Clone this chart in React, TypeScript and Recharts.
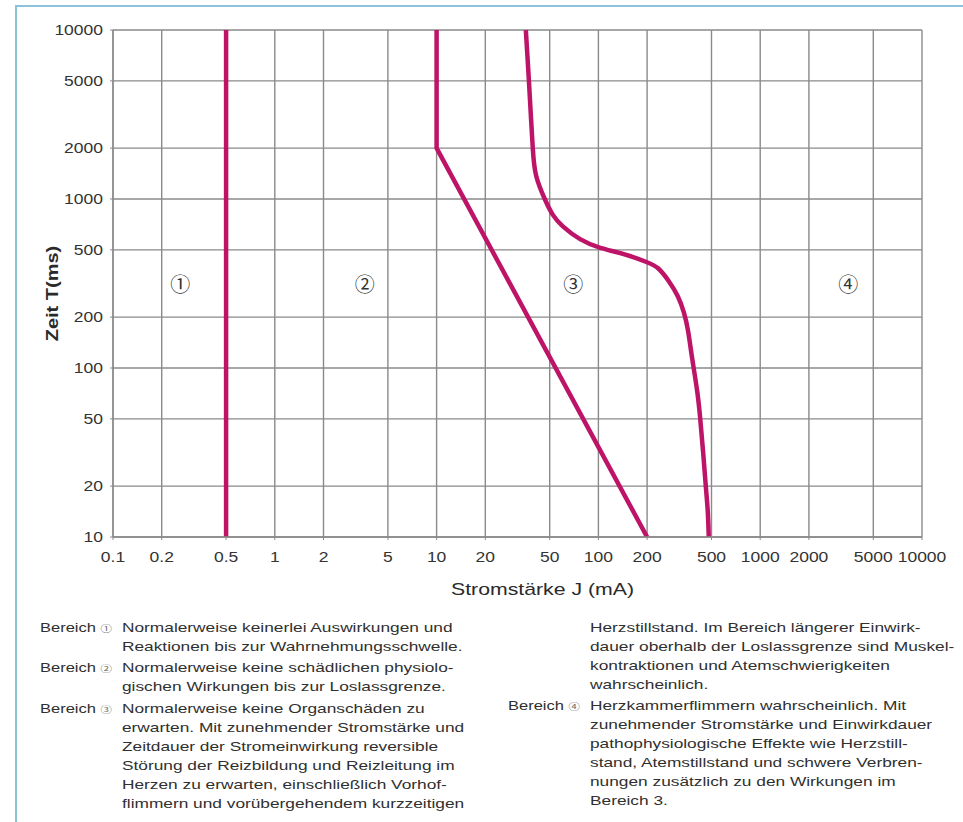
import React from "react";
import { LineChart, Line, XAxis, YAxis, CartesianGrid, ReferenceDot } from "recharts";

// axis ticks (log scales)
const currentTicks = [0.1, 0.2, 0.5, 1, 2, 5, 10, 20, 50, 100, 200, 500, 1000, 2000, 5000, 10000];
const timeTicks = [10, 20, 50, 100, 200, 500, 1000, 2000, 5000, 10000];

// threshold curves, current J (mA) vs time T (ms)
const curveACurrent = [0.5, 0.5];
const curveATime = [10, 10000];

const curveBCurrent = [10, 10, 200];
const curveBTime = [10000, 2000, 10];

const curveCCurrent = [
  35.6, 36.4, 37.2, 38.2, 39.3, 41.2, 46.6, 52.2, 60.3, 77.1, 102.9, 143.4, 198,
  234.6, 271.7, 310, 338, 358, 373, 388, 410, 426, 444, 461, 474, 481,
];
const curveCTime = [
  10000, 7080, 5000, 3185, 2000, 1377, 1000, 808, 689, 579, 514, 472, 424,
  388, 327.5, 265, 212, 166.6, 128, 100, 70.3, 50, 31.6, 20, 14.25, 10,
];

// region markers
const regionLabels = ["①", "②", "③", "④"];
const regionCurrent = [0.26, 3.6, 70, 3500];
const regionTime = [310, 310, 310, 310];

const toPoints = (xs: number[], ys: number[]) => xs.map((x, i) => ({ x, y: ys[i] }));

const curveA = toPoints(curveACurrent, curveATime);
const curveB = toPoints(curveBCurrent, curveBTime);
const curveC = toPoints(curveCCurrent, curveCTime);

const leftNotes = [
  {
    label: "①",
    lines: ["Normalerweise keinerlei Auswirkungen und", "Reaktionen bis zur Wahrnehmungsschwelle."],
  },
  {
    label: "②",
    lines: ["Normalerweise keine schädlichen physiolo-", "gischen Wirkungen bis zur Loslassgrenze."],
  },
  {
    label: "③",
    lines: [
      "Normalerweise keine Organschäden zu",
      "erwarten. Mit zunehmender Stromstärke und",
      "Zeitdauer der Stromeinwirkung reversible",
      "Störung der Reizbildung und Reizleitung im",
      "Herzen zu erwarten, einschließlich Vorhof-",
      "flimmern und vorübergehendem kurzzeitigen",
    ],
  },
];

const rightNotes = [
  {
    label: "",
    lines: [
      "Herzstillstand. Im Bereich längerer Einwirk-",
      "dauer oberhalb der Loslassgrenze sind Muskel-",
      "kontraktionen und Atemschwierigkeiten",
      "wahrscheinlich.",
    ],
  },
  {
    label: "④",
    lines: [
      "Herzkammerflimmern wahrscheinlich. Mit",
      "zunehmender Stromstärke und Einwirkdauer",
      "pathophysiologische Effekte wie Herzstill-",
      "stand, Atemstillstand und schwere Verbren-",
      "nungen zusätzlich zu den Wirkungen im",
      "Bereich 3.",
    ],
  },
];

const FONT = "'Liberation Sans', Arial, Helvetica, sans-serif";
const CIRCLED = "'Noto Sans CJK JP', 'DejaVu Sans', sans-serif";
const STRETCH = 1.25;
const LINE_COLOR = "#bd1468";
const GRID_COLOR = "#8a8a8a";

const YTick = (props: any) => {
  const { x, y, payload } = props;
  return (
    <text
      transform={`translate(${x},${y}) scale(${STRETCH},1)`}
      textAnchor="end"
      dy="0.36em"
      fontSize={14}
      fontFamily={FONT}
      fill="#333"
    >
      {String(payload.value)}
    </text>
  );
};

const XTick = (props: any) => {
  const { x, y, payload } = props;
  return (
    <text
      transform={`translate(${x},${y}) scale(${STRETCH},1)`}
      textAnchor="middle"
      dy="0.71em"
      fontSize={14}
      fontFamily={FONT}
      fill="#333"
    >
      {String(payload.value)}
    </text>
  );
};

const XTitle = (props: any) => {
  const vb = props.viewBox;
  const cx = vb.x + vb.width / 2 + 25;
  return (
    <text
      transform={`translate(${cx},${vb.y + 58}) scale(${STRETCH},1)`}
      textAnchor="middle"
      fontSize={17}
      fontFamily={FONT}
      fill="#2a2a2a"
    >
      Stromstärke J (mA)
    </text>
  );
};

const YTitle = (props: any) => {
  const vb = props.viewBox;
  const cy = vb.y + vb.height / 2 + 10;
  return (
    <text
      transform={`translate(${vb.x + 10},${cy}) rotate(-90) scale(${STRETCH},1)`}
      textAnchor="middle"
      dominantBaseline="central"
      fontSize={16}
      fontWeight="bold"
      fontFamily={FONT}
      fill="#2a2a2a"
    >
      Zeit T(ms)
    </text>
  );
};

const NoteBlock = ({
  notes,
  labelX,
  textX,
  top,
}: {
  notes: { label: string; lines: string[] }[];
  labelX: number;
  textX: number;
  top: number;
}) => {
  const lineH = 19;
  const gap = 2.5;
  const items: React.ReactNode[] = [];
  let y = top;
  notes.forEach((note, ni) => {
    if (note.label) {
      items.push(
        <div
          key={`l${ni}`}
          style={{
            position: "absolute",
            left: labelX,
            top: y - lineH / 2,
            lineHeight: `${lineH}px`,
            whiteSpace: "nowrap",
            transform: `scaleX(1.27)`,
            transformOrigin: "0 50%",
          }}
        >
          Bereich{" "}
          <span style={{ fontFamily: CIRCLED, fontSize: 9, color: "#666" }}>{note.label}</span>
        </div>
      );
    }
    note.lines.forEach((line, li) => {
      items.push(
        <div
          key={`t${ni}-${li}`}
          style={{
            position: "absolute",
            left: textX,
            top: y - lineH / 2,
            lineHeight: `${lineH}px`,
            whiteSpace: "nowrap",
            transform: `scaleX(1.33)`,
            transformOrigin: "0 50%",
          }}
        >
          {line}
        </div>
      );
      y += lineH;
    });
    y += gap;
  });
  return <>{items}</>;
};

export default function App() {
  return (
    <div
      style={{
        position: "absolute",
        left: 0,
        top: 0,
        width: 963,
        height: 822,
        background: "#fff",
        overflow: "hidden",
        fontFamily: FONT,
        fontSize: 13,
        color: "#303030",
      }}
    >
      {/* frame */}
      <div
        style={{
          position: "absolute",
          left: 15,
          top: 5,
          width: 1000,
          height: 900,
          borderTop: "2px solid #8cc3d8",
          borderLeft: "2px solid #8cc3d8",
        }}
      />
      <div style={{ position: "absolute", left: 0, top: 0 }}>
        <LineChart
          width={963}
          height={600}
          margin={{ top: 30, right: 41, bottom: 23, left: 43 }}
        >
          <CartesianGrid stroke={GRID_COLOR} strokeWidth={1.4} />
          <XAxis
            dataKey="x"
            type="number"
            scale="log"
            domain={[0.1, 10000]}
            ticks={currentTicks}
            interval={0}
            allowDataOverflow
            height={40}
            tickSize={3}
            tickMargin={12}
            axisLine={{ stroke: GRID_COLOR, strokeWidth: 1.4 }}
            tickLine={{ stroke: GRID_COLOR }}
            tick={<XTick />}
            label={<XTitle />}
          />
          <YAxis
            dataKey="y"
            type="number"
            scale="log"
            domain={[10, 10000]}
            ticks={timeTicks}
            interval={0}
            allowDataOverflow
            width={70}
            tickSize={3}
            tickMargin={7}
            axisLine={{ stroke: GRID_COLOR, strokeWidth: 1.4 }}
            tickLine={{ stroke: GRID_COLOR }}
            tick={<YTick />}
            label={<YTitle />}
          />
          <Line
            data={curveA}
            dataKey="y"
            type="linear"
            stroke={LINE_COLOR}
            strokeWidth={4.5}
            dot={false}
            isAnimationActive={false}
          />
          <Line
            data={curveB}
            dataKey="y"
            type="linear"
            stroke={LINE_COLOR}
            strokeWidth={4.5}
            strokeLinejoin="round"
            dot={false}
            isAnimationActive={false}
          />
          <Line
            data={curveC}
            dataKey="y"
            type="natural"
            stroke={LINE_COLOR}
            strokeWidth={4.5}
            dot={false}
            isAnimationActive={false}
          />
          {regionLabels.map((lbl, i) => (
            <ReferenceDot
              key={lbl}
              x={regionCurrent[i]}
              y={regionTime[i]}
              r={0}
              fill="none"
              stroke="none"
              label={{
                value: lbl,
                position: "center",
                fontSize: 20,
                fontFamily: CIRCLED,
                fill: "#333",
              }}
            />
          ))}
        </LineChart>
      </div>
      <NoteBlock notes={leftNotes} labelX={40} textX={122} top={627} />
      <NoteBlock notes={rightNotes} labelX={508} textX={590} top={627} />
    </div>
  );
}
